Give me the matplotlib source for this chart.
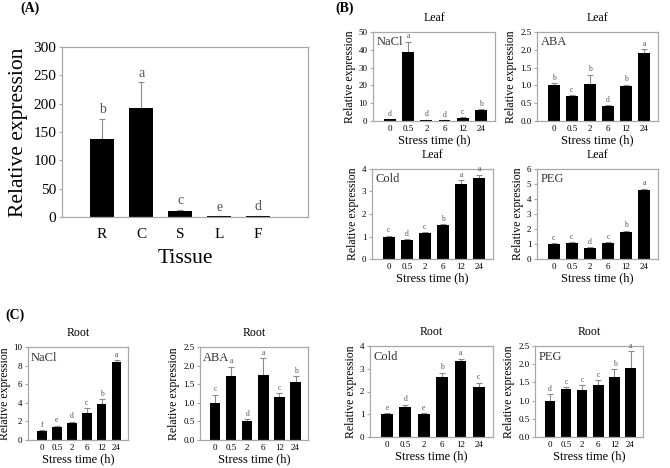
import numpy as np
import matplotlib.pyplot as plt

plt.rcParams['font.family'] = ['Liberation Serif', 'DejaVu Serif']

# Panel A: tissues
tissues = ['R', 'C', 'S', 'L', 'F']
tissue_vals = [138, 192, 10, 1, 2]
tissue_err = [35, 46, 3, 0.3, 0.5]
tissue_let = ['b', 'a', 'c', 'e', 'd']

times = ['0', '0.5', '2', '6', '12', '24']

# Leaf
leaf_nacl = [1.0, 38.5, 0.7, 0.5, 1.8, 6.0]
leaf_nacl_err = [0.2, 6.0, 0.1, 0.1, 0.2, 0.5]
leaf_nacl_let = ['d', 'a', 'd', 'd', 'c', 'b']

leaf_aba = [1.0, 0.70, 1.05, 0.42, 0.98, 1.90]
leaf_aba_err = [0.07, 0.03, 0.25, 0.03, 0.04, 0.12]
leaf_aba_let = ['b', 'c', 'b', 'd', 'b', 'a']

leaf_cold = [1.0, 0.85, 1.15, 1.52, 3.35, 3.60]
leaf_cold_err = [0.03, 0.03, 0.03, 0.03, 0.15, 0.15]
leaf_cold_let = ['c', 'd', 'c', 'b', 'a', 'a']

leaf_peg = [1.0, 1.08, 0.72, 1.08, 1.80, 4.60]
leaf_peg_err = [0.05, 0.05, 0.05, 0.05, 0.10, 0.10]
leaf_peg_let = ['c', 'c', 'd', 'c', 'b', 'a']

# Root
root_nacl = [1.0, 1.45, 1.85, 2.90, 3.90, 8.40]
root_nacl_err = [0.05, 0.1, 0.1, 0.5, 0.5, 0.2]
root_nacl_let = ['f', 'e', 'd', 'c', 'b', 'a']

root_aba = [1.0, 1.72, 0.50, 1.75, 1.16, 1.57]
root_aba_err = [0.22, 0.25, 0.06, 0.45, 0.10, 0.15]
root_aba_let = ['c', 'a', 'd', 'a', 'c', 'b']

root_cold = [1.0, 1.30, 1.03, 2.65, 3.33, 2.20]
root_cold_err = [0.05, 0.12, 0.03, 0.18, 0.12, 0.18]
root_cold_let = ['e', 'd', 'e', 'b', 'a', 'c']

root_peg = [1.0, 1.32, 1.30, 1.42, 1.65, 1.90]
root_peg_err = [0.18, 0.05, 0.12, 0.14, 0.22, 0.45]
root_peg_let = ['d', 'c', 'c', 'c', 'b', 'a']

W, H = 670, 468
fig = plt.figure(figsize=(W / 100, H / 100), dpi=100)
frame = '#a8a8a8'
errc = '#8a8a8a'


def box(l, t, r, b):
    return [l / W, 1 - b / H, (r - l) / W, (b - t) / H]


def bars(ax, labels, vals, err, lets, ymax, yticks, fmt, fs_tick, fs_let, xlim, width):
    x = np.arange(len(vals))
    ax.bar(x, vals, width=width, color='black', zorder=2)
    ax.errorbar(x, vals, yerr=[np.zeros(len(vals)), err], fmt='none',
                ecolor=errc, elinewidth=0.8, capsize=2, capthick=0.8, zorder=1)
    for xi, v, e, l in zip(x, vals, err, lets):
        ax.text(xi, v + e + ymax * 0.015, l, ha='center', va='bottom',
                fontsize=fs_let, color='#555555')
    ax.set_xlim(*xlim)
    ax.set_ylim(0, ymax)
    ax.set_xticks(x)
    ax.set_xticklabels(labels, fontsize=fs_tick)
    ax.set_yticks(yticks)
    ax.set_yticklabels([fmt.format(t) for t in yticks], fontsize=fs_tick)
    ax.tick_params(axis='x', length=0, pad=3)
    ax.tick_params(axis='y', length=2, color=frame, pad=2)
    for s in ax.spines.values():
        s.set_color(frame)
        s.set_linewidth(0.9)


# (A)
axA = fig.add_axes(box(62, 47, 308, 217))
bars(axA, tissues, tissue_vals, tissue_err, tissue_let, 300,
     [0, 50, 100, 150, 200, 250, 300], '{:g}', 11, 10, (-1.03, 5.28), 0.6)
axA.tick_params(axis='x', pad=8)
axA.set_ylabel('Relative expression', fontsize=15.5)
axA.set_xlabel('Tissue', fontsize=15.5, labelpad=6)
fig.text(20 / W, 1 - 8 / H, '(A)', fontsize=10, fontweight='bold', va='center')

small = [
    # (panel box, values, err, letters, ymax, ticks, fmt, inner label, title)
    ((373, 32, 495, 121), leaf_nacl, leaf_nacl_err, leaf_nacl_let, 50,
     [0, 10, 20, 30, 40, 50], '{:g}', 'NaCl', 'Leaf'),
    ((537, 32, 658, 121), leaf_aba, leaf_aba_err, leaf_aba_let, 2.5,
     [0, 0.5, 1.0, 1.5, 2.0, 2.5], '{:.1f}', 'ABA', 'Leaf'),
    ((372, 169, 493, 259), leaf_cold, leaf_cold_err, leaf_cold_let, 4,
     [0, 1, 2, 3, 4], '{:g}', 'Cold', 'Leaf'),
    ((537, 169, 658, 259), leaf_peg, leaf_peg_err, leaf_peg_let, 6,
     [0, 1, 2, 3, 4, 5, 6], '{:g}', 'PEG', 'Leaf'),
    ((28, 347, 128, 440), root_nacl, root_nacl_err, root_nacl_let, 10,
     [0, 2, 4, 6, 8, 10], '{:g}', 'NaCl', 'Root'),
    ((200, 347, 308, 440), root_aba, root_aba_err, root_aba_let, 2.5,
     [0, 0.5, 1.0, 1.5, 2.0, 2.5], '{:.1f}', 'ABA', 'Root'),
    ((370, 346, 493, 437), root_cold, root_cold_err, root_cold_let, 4,
     [0, 1, 2, 3, 4], '{:g}', 'Cold', 'Root'),
    ((535, 346, 643, 437), root_peg, root_peg_err, root_peg_let, 2.5,
     [0, 0.5, 1.0, 1.5, 2.0, 2.5], '{:.1f}', 'PEG', 'Root'),
]

for (l, t, r, b), vals, err, lets, ymax, ticks, fmt, inner, title in small:
    ax = fig.add_axes(box(l, t, r, b))
    bars(ax, times, vals, err, lets, ymax, ticks, fmt, 6.5, 5.5, (-0.93, 5.77), 0.65)
    ax.set_ylabel('Relative expression', fontsize=8.5, labelpad=2)
    ax.set_xlabel('Stress time (h)', fontsize=9, labelpad=1)
    ax.set_title(title, fontsize=8.5, pad=8)
    ax.text(0.03, 0.95, inner, transform=ax.transAxes, ha='left', va='top',
            fontsize=9, color='#333333')

fig.text(335 / W, 1 - 8 / H, '(B)', fontsize=10, fontweight='bold', va='center')
fig.text(5 / W, 1 - 315 / H, '(C)', fontsize=10, fontweight='bold', va='center')

fig.savefig('out.png', dpi=100)
